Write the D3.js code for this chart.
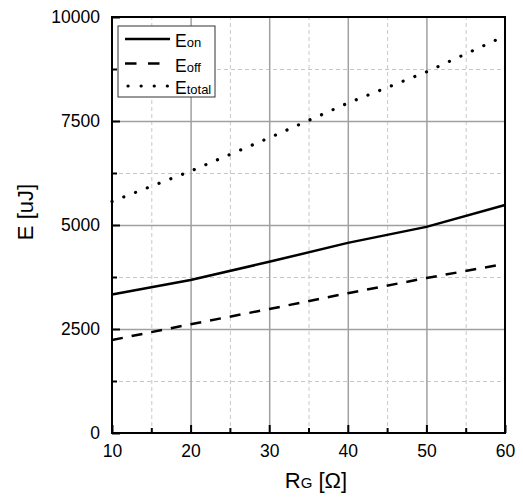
<!DOCTYPE html>
<html>
<head>
<meta charset="utf-8">
<script src="https://cdn.jsdelivr.net/npm/d3@7.9.0/dist/d3.min.js"></script>
<style>
  body { margin: 0; background: #fff; }
  svg { font-family: 'Liberation Sans', Arial, sans-serif; }
</style>
</head>
<body>
<div id="chart"></div>
<script>
// values
const rg = [10, 20, 30, 40, 50, 60];
const eOn = [3330, 3680, 4115, 4570, 4955, 5480];
const eOff = [2235, 2615, 2980, 3360, 3725, 4065];
const eTotal = [5565, 6295, 7095, 7930, 8680, 9545];
const xTicks = [10, 20, 30, 40, 50, 60];
const yTicks = [0, 2500, 5000, 7500, 10000];
const legendNames = ['on', 'off', 'total'];

const width = 523;
const height = 498;
const margin = { top: 17, right: 18, bottom: 65, left: 112 };
const font = 'Liberation Sans, Arial, sans-serif';

const svg = d3
  .select('#chart')
  .append('svg')
  .attr('width', width)
  .attr('height', height);

const xScale = d3.scaleLinear().domain([10, 60]).range([margin.left, width - margin.right]);
const yScale = d3.scaleLinear().domain([0, 10000]).range([height - margin.bottom, margin.top]);

const plotW = width - margin.left - margin.right;
const plotH = height - margin.top - margin.bottom;

const xMinor = d3.range(15, 60, 10);
const yMinor = d3.range(1250, 10000, 2500);

// gridlines: minor dashed, major solid
const grid = svg.append('g').attr('class', 'grid');
function gridX(values, style) {
  grid
    .append('g')
    .attr('transform', `translate(0, ${height - margin.bottom})`)
    .call(d3.axisBottom(xScale).tickValues(values).tickFormat('').tickSize(-plotH))
    .call((g) => g.select('.domain').remove())
    .call(style);
}
function gridY(values, style) {
  grid
    .append('g')
    .attr('transform', `translate(${margin.left}, 0)`)
    .call(d3.axisLeft(yScale).tickValues(values).tickFormat('').tickSize(-plotW))
    .call((g) => g.select('.domain').remove())
    .call(style);
}
const minorStyle = (g) => g.selectAll('line').attr('stroke', '#c8c8c8').attr('stroke-dasharray', '4,3');
const majorStyle = (g) => g.selectAll('line').attr('stroke', '#a0a0a0').attr('stroke-width', 1.5);
gridX(xMinor, minorStyle);
gridY(yMinor, minorStyle);
gridX(xTicks.slice(1, -1), majorStyle);
gridY(yTicks.slice(1, -1), majorStyle);

// axes with inward ticks
const axes = svg.append('g').attr('class', 'axes');
axes
  .append('g')
  .attr('transform', `translate(0, ${height - margin.bottom})`)
  .call(d3.axisBottom(xScale).tickValues(xTicks).tickSizeInner(-8).tickSizeOuter(0).tickPadding(12).tickFormat(d3.format('d')));
axes
  .append('g')
  .attr('transform', `translate(0, ${height - margin.bottom})`)
  .call(d3.axisBottom(xScale).tickValues(xMinor).tickFormat('').tickSizeInner(-5).tickSizeOuter(0));
axes
  .append('g')
  .attr('transform', `translate(${margin.left}, 0)`)
  .call(d3.axisLeft(yScale).tickValues(yTicks).tickSizeInner(-8).tickSizeOuter(0).tickPadding(12).tickFormat(d3.format('d')));
axes
  .append('g')
  .attr('transform', `translate(${margin.left}, 0)`)
  .call(d3.axisLeft(yScale).tickValues(yMinor).tickFormat('').tickSizeInner(-5).tickSizeOuter(0));

axes.selectAll('.domain').remove();
axes.selectAll('.tick line').attr('stroke-width', 2);
axes.selectAll('text').attr('font-size', 17.5).attr('fill', '#000').attr('font-family', font);

// frame
svg
  .append('rect')
  .attr('x', margin.left)
  .attr('y', margin.top)
  .attr('width', plotW)
  .attr('height', plotH)
  .attr('fill', 'none')
  .attr('stroke', '#000')
  .attr('stroke-width', 2);

// series
const series = [
  { name: legendNames[0], values: eOn, dash: null, legendDash: null, cap: 'butt', w: 2.5 },
  { name: legendNames[1], values: eOff, dash: '11,9', legendDash: '11.5,11.5', cap: 'butt', w: 2.5 },
  { name: legendNames[2], values: eTotal, dash: '0.1,12.5', legendDash: '0.1,13', cap: 'round', w: 3.2 },
];

const line = d3
  .line()
  .x((d, i) => xScale(rg[i]))
  .y((d) => yScale(d));

svg
  .append('g')
  .selectAll('path')
  .data(series)
  .join('path')
  .attr('d', (d) => line(d.values))
  .attr('fill', 'none')
  .attr('stroke', '#000')
  .attr('stroke-width', (d) => d.w)
  .attr('stroke-linecap', (d) => d.cap)
  .attr('stroke-dasharray', (d) => d.dash);

// legend
const legend = svg.append('g').attr('transform', 'translate(118, 26)');
legend
  .append('rect')
  .attr('width', 97)
  .attr('height', 71)
  .attr('fill', '#fff')
  .attr('stroke', '#333')
  .attr('stroke-width', 1);

const rowY = [13, 37.5, 60];
series.forEach((s, i) => {
  const y = rowY[i];
  legend
    .append('line')
    .attr('x1', s.cap === 'round' ? 10 : 7)
    .attr('x2', 52)
    .attr('y1', y)
    .attr('y2', y)
    .attr('stroke', '#000')
    .attr('stroke-width', s.w)
    .attr('stroke-linecap', s.cap)
    .attr('stroke-dasharray', s.legendDash);
  const t = legend
    .append('text')
    .attr('x', 57)
    .attr('y', y + 8)
    .attr('font-size', 17.5);
  t.append('tspan').text('E');
  t.append('tspan').attr('font-size', 13).text(s.name);
});

// axis titles
const xt = svg
  .append('text')
  .attr('x', 316)
  .attr('y', 488)
  .attr('text-anchor', 'middle')
  .attr('font-size', 22);
xt.append('tspan').text('R');
xt.append('tspan').attr('font-size', 15).text('G');
xt.append('tspan').text(' [Ω]');

svg
  .append('text')
  .attr('transform', 'translate(33, 212) rotate(-90)')
  .attr('text-anchor', 'middle')
  .attr('font-size', 22)
  .text('E [uJ]');
</script>
</body>
</html>
